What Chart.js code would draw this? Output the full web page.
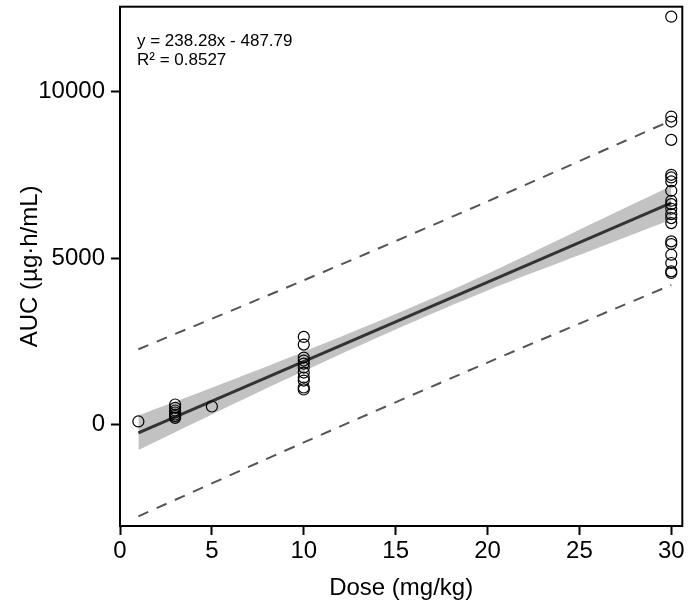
<!DOCTYPE html>
<html>
<head>
<meta charset="utf-8">
<script src="https://cdn.jsdelivr.net/npm/chart.js@4/dist/chart.umd.min.js"></script>
<style>
  html, body { margin: 0; padding: 0; background: #fff; }
  #wrap { width: 689px; height: 607px; }
</style>
</head>
<body>
<div id="wrap"><canvas id="chart" width="689" height="607"></canvas></div>
<script>
// observed AUC values per dose
var dose1 = [90];
var dose3 = [600, 500, 420, 360, 300, 250, 200];
var dose5 = [540];
var dose10 = [2630, 2400, 2010, 1920, 1830, 1710, 1560, 1410, 1320, 1110, 1050];
var dose30 = [12250, 9250, 9100, 8550, 7500, 7420, 7300, 7020, 6720, 6620, 6480, 6320, 6200,
              6050, 5500, 5420, 5100, 4850, 4600, 4550];

// fitted line, 95% confidence band, prediction interval
var fitX = [1, 30];
var fitY = [-250, 6660];
var bandX = [1, 5, 10, 15, 20, 25, 30];
var bandUpper = [270, 1103, 2185, 3316, 4528, 5849, 7160];
var bandLower = [-770, 303, 1605, 2856, 4028, 5089, 6160];
var predX = [1, 10, 20, 30];
var predUpper = [2260, 4330, 6700, 9130];
var predLower = [-2760, -540, 1860, 4190];

var xTicks = [0, 5, 10, 15, 20, 25, 30];
var yTicks = [0, 5000, 10000];
var annoLines = ["y = 238.28x - 487.79", "R\u00b2 = 0.8527"];

function pts(xs, ys) {
    return xs.map(function(x, i) { return {x: x, y: ys[i]}; });
}
var scatter = [];
[[1, dose1], [3, dose3], [5, dose5], [10, dose10], [30, dose30]].forEach(function(g) {
    g[1].forEach(function(v) { scatter.push({x: g[0], y: v}); });
});

var font = "'Liberation Sans', Arial, sans-serif";

// box around plot + text annotation
var boxPlugin = {
    id: 'box',
    afterDraw: function(chart) {
        var a = chart.chartArea, ctx = chart.ctx;
        ctx.save();
        ctx.strokeStyle = '#000';
        ctx.lineWidth = 2;
        ctx.strokeRect(a.left, a.top, a.right - a.left, a.bottom - a.top);
        ctx.fillStyle = '#000';
        ctx.font = '17px ' + font;
        ctx.textBaseline = 'alphabetic';
        ctx.fillText(annoLines[0], a.left + 17, 46);
        ctx.fillText(annoLines[1], a.left + 17, 65);
        ctx.restore();
    }
};

function noPad(s) {
    s.paddingTop = 0; s.paddingBottom = 0; s.paddingLeft = 0; s.paddingRight = 0;
}

new Chart(document.getElementById("chart"), {
    type: 'scatter',
    data: {
        datasets: [
            {
                // band lower edge (fill target)
                type: 'line',
                order: 5,
                data: pts(bandX, bandLower),
                borderWidth: 0,
                pointRadius: 0,
                fill: false,
                tension: 0.3
            },
            {
                type: 'line',
                order: 4,
                data: pts(bandX, bandUpper),
                borderWidth: 0,
                pointRadius: 0,
                backgroundColor: '#c2c2c2',
                fill: '-1',
                tension: 0.3
            },
            {
                type: 'line',
                order: 3,
                data: pts(predX, predUpper),
                borderColor: '#555',
                borderWidth: 2,
                borderDash: [11, 9],
                pointRadius: 0,
                fill: false,
                tension: 0.3
            },
            {
                type: 'line',
                order: 3,
                data: pts(predX, predLower),
                borderColor: '#555',
                borderWidth: 2,
                borderDash: [11, 9],
                pointRadius: 0,
                fill: false,
                tension: 0.3
            },
            {
                type: 'line',
                order: 1,
                data: pts(fitX, fitY),
                borderColor: '#333',
                borderWidth: 3,
                pointRadius: 0,
                fill: false
            },
            {
                order: 0,
                data: scatter,
                pointStyle: 'circle',
                pointRadius: 5.5,
                pointBorderWidth: 1.2,
                pointBorderColor: '#000',
                pointBackgroundColor: 'rgba(0,0,0,0)'
            }
        ]
    },
    plugins: [boxPlugin],
    options: {
        responsive: false,
        animation: false,
        layout: { padding: { top: -1, right: -1, left: 0, bottom: 0 } },
        plugins: { legend: { display: false }, tooltip: { enabled: false } },
        scales: {
            x: {
                type: 'linear',
                min: 0,
                max: 30.6,
                afterBuildTicks: function(s) { s.ticks = xTicks.map(function(v) { return {value: v}; }); },
                afterFit: function(s) { s.height = 81; noPad(s); },
                grid: { drawOnChartArea: false, tickLength: 9, tickColor: '#000', tickWidth: 2 },
                border: { display: true, color: '#000', width: 2 },
                ticks: { color: '#000', font: { family: font, size: 24 }, padding: 2, maxRotation: 0,
                         callback: function(v) { return String(v); } },
                title: { display: true, text: 'Dose (mg/kg)', color: '#000', font: { family: font, size: 24 }, padding: { top: 2 } }
            },
            y: {
                type: 'linear',
                min: -3050,
                max: 12550,
                afterBuildTicks: function(s) { s.ticks = yTicks.map(function(v) { return {value: v}; }); },
                afterFit: function(s) { s.width = 120; noPad(s); },
                grid: { drawOnChartArea: false, tickLength: 9, tickColor: '#000', tickWidth: 2 },
                border: { display: true, color: '#000', width: 2 },
                ticks: { color: '#000', font: { family: font, size: 24 }, padding: 6,
                         callback: function(v) { return String(v); } },
                title: { display: true, text: 'AUC (\u00b5g\u00b7h/mL)', color: '#000', font: { family: font, size: 24 }, padding: { top: 16, bottom: 0 } }
            }
        }
    }
});
</script>
</body>
</html>
